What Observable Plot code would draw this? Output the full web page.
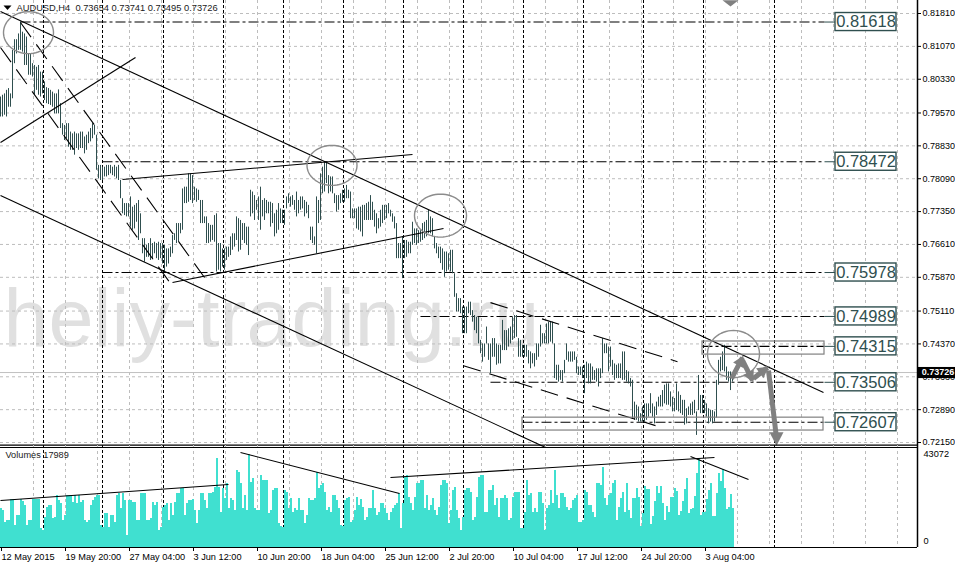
<!DOCTYPE html>
<html><head><meta charset="utf-8">
<style>html,body{margin:0;padding:0;background:#fff;overflow:hidden}svg{display:block;overflow:visible}#c{width:955px;height:563px;overflow:hidden}</style>
<script src="https://cdn.jsdelivr.net/npm/d3@7"></script>
<script src="https://cdn.jsdelivr.net/npm/@observablehq/plot@0.6"></script>
</head><body><div id="c"></div>
<script>
// price in pips (1e-4), per H4 bar
const highs=[7993,7997,8000,8008,8012,8000,8098,8122,8122,8135,
8162,8139,8135,8128,8090,8090,8068,8064,8060,8064,
8049,8049,8027,8014,8012,8008,8004,8000,8000,8009,
7978,7933,7929,7933,7933,7914,7910,7914,7910,7910,
7914,7914,7903,7907,7914,7922,7933,7929,7907,7839,
7839,7835,7835,7839,7839,7839,7835,7839,7835,7839,
7805,7764,7753,7753,7753,7768,7745,7749,7753,7760,
7730,7674,7674,7659,7663,7674,7663,7666,7663,7666,
7663,7663,7659,7651,7651,7655,7681,7685,7708,7708,
7708,7786,7790,7790,7820,7820,7816,7790,7786,7783,
7760,7760,7723,7723,7708,7704,7704,7726,7730,7663,
7663,7651,7651,7655,7655,7678,7685,7685,7723,7719,
7715,7708,7708,7700,7700,7783,7779,7771,7760,7768,
7790,7760,7764,7760,7756,7756,7753,7730,7738,7753,
7741,7738,7738,7768,7775,7768,7771,7760,7779,7760,
7768,7768,7760,7756,7749,7700,7700,7678,7768,7760,
7820,7835,7847,7847,7816,7813,7813,7775,7771,7771,
7775,7783,7786,7794,7783,7779,7741,7741,7741,7745,
7745,7749,7749,7753,7756,7771,7756,7738,7730,7719,
7738,7749,7749,7749,7753,7738,7730,7723,7708,7663,
7663,7678,7670,7670,7666,7666,7711,7696,7696,7692,
7692,7708,7711,7715,7738,7723,7719,7678,7663,7655,
7655,7651,7644,7644,7640,7648,7648,7595,7550,7539,
7539,7520,7520,7520,7531,7531,7512,7501,7497,7497,
7445,7437,7437,7475,7437,7437,7449,7449,7437,7434,
7434,7490,7467,7467,7471,7475,7497,7501,7501,7449,
7445,7434,7434,7434,7422,7419,7415,7415,7437,7437,
7479,7460,7460,7482,7486,7486,7486,7437,7389,7389,
7377,7377,7400,7437,7419,7419,7419,7419,7407,7385,
7385,7385,7389,7396,7392,7392,7385,7377,7381,7381,
7381,7449,7437,7437,7430,7430,7400,7392,7389,7392,
7392,7419,7419,7377,7374,7359,7355,7306,7299,7295,
7280,7295,7302,7302,7302,7325,7302,7295,7306,7317,
7321,7332,7344,7347,7347,7329,7317,7314,7347,7329,
7321,7310,7310,7291,7295,7302,7306,7310,7284,7366,
7321,7321,7310,7302,7291,7287,7287,7284,7355,7400,
7407,7419,7434,7385,7374,7374,7370];
const lows=[7948,7948,7952,7948,7970,7970,7989,8068,8090,8098,
8098,8094,8064,8064,8042,8042,8038,7997,8008,7997,
7993,8000,7985,7978,7976,7974,7970,7955,7955,7955,
7922,7907,7895,7899,7880,7873,7873,7862,7877,7873,
7877,7877,7865,7873,7888,7892,7899,7907,7828,7809,
7805,7805,7813,7813,7816,7820,7816,7813,7809,7805,
7764,7730,7726,7723,7723,7700,7693,7696,7711,7670,
7685,7640,7621,7632,7632,7625,7629,7640,7629,7625,
7629,7617,7599,7610,7617,7632,7640,7670,7663,7666,
7685,7693,7753,7753,7756,7760,7753,7760,7756,7760,
7708,7708,7708,7663,7663,7666,7670,7666,7599,7603,
7599,7610,7603,7625,7632,7636,7648,7655,7670,7644,
7648,7670,7663,7659,7636,7723,7730,7715,7738,7715,
7693,7723,7715,7730,7730,7700,7708,7678,7685,7693,
7708,7708,7704,7741,7753,7745,7749,7738,7723,7730,
7738,7741,7723,7730,7719,7670,7663,7659,7640,7708,
7715,7775,7779,7798,7775,7779,7775,7753,7734,7738,
7753,7756,7756,7764,7764,7719,7719,7719,7696,7693,
7689,7678,7715,7715,7715,7715,7715,7700,7685,7696,
7700,7708,7715,7719,7730,7723,7711,7696,7629,7629,
7629,7584,7629,7632,7640,7640,7659,7663,7659,7663,
7666,7670,7674,7678,7685,7685,7678,7651,7640,7629,
7618,7603,7587,7599,7603,7599,7595,7542,7509,7509,
7505,7460,7460,7460,7505,7501,7486,7467,7460,7437,
7415,7396,7407,7437,7400,7370,7407,7407,7389,7392,
7392,7422,7422,7422,7430,7437,7445,7449,7452,7407,
7407,7407,7407,7407,7392,7381,7392,7385,7400,7407,
7430,7437,7437,7437,7437,7441,7437,7359,7355,7351,
7355,7351,7370,7400,7396,7396,7396,7400,7370,7366,
7366,7359,7325,7359,7347,7347,7355,7355,7351,7340,
7359,7370,7415,7415,7374,7385,7366,7355,7359,7359,
7359,7355,7355,7351,7347,7340,7268,7265,7265,7261,
7261,7261,7261,7265,7272,7280,7272,7257,7276,7295,
7295,7295,7302,7299,7299,7295,7284,7284,7287,7284,
7280,7276,7254,7257,7276,7276,7276,7280,7231,7287,
7280,7280,7280,7272,7257,7261,7257,7261,7270,7344,
7374,7377,7374,7355,7351,7332,7351];
const volumes=[17860,17090,11700,12470,12470,22020,22020,10160,14780,14780,
22020,21410,19400,10160,12470,12470,22020,22020,22020,22020,
8620,7850,14010,18630,19400,19400,13240,14010,24020,21710,
20170,12470,14780,24020,24020,24020,20940,24020,20170,24020,
20940,21710,12470,11700,12470,19400,21710,23250,24020,24020,
10160,9390,15550,15550,9390,14780,14780,11700,24020,24790,
17860,24790,21710,5540,21710,21710,20940,20940,12470,12470,
24790,24790,24790,12470,12470,13240,20940,19400,20940,7850,
9390,18630,19400,20170,12470,20170,14780,20940,24790,24790,
27100,27100,14780,20170,21710,21710,22020,17090,10930,17090,
24790,24790,21710,17860,24790,24790,25560,27870,40960,27870,
16320,27100,22480,29410,17860,22480,21710,17090,35570,34800,
29410,17860,24020,17090,43072,30180,31720,17860,17090,17090,
33260,30950,30950,30950,15550,17090,26330,27100,27100,10930,
9700,9390,26330,25560,17860,22480,16320,17860,17090,22480,
17090,17090,10930,14780,22480,21710,21710,22480,34800,27100,
28640,29410,25560,17090,18630,16320,24020,24020,21710,17860,
10160,9700,21710,22480,22950,11700,12470,17090,23250,19400,
22020,18630,12470,14010,17860,17860,26330,17860,14780,16320,
20170,20170,17860,15550,12470,16320,17860,19400,20170,24790,
8620,20170,32490,33260,23250,20170,17090,23250,29410,29410,
30950,30950,17860,24020,17090,19400,22480,17090,14780,18630,
28640,30950,30950,29410,10930,17090,26330,27870,17090,13240,
7850,14010,26330,27100,27100,25560,12470,14010,23250,32490,
33260,33260,16320,16320,26330,26330,28640,19400,22480,14010,
22480,22480,24020,22480,12470,13240,23250,25560,25560,25560,
8620,8620,16320,30950,24020,24790,16320,17860,16320,25560,
25560,20170,7850,17860,19400,26330,20170,35570,24020,17860,
24790,24790,23250,18630,17090,17860,21710,22480,24020,11700,
11700,12470,26330,25560,19400,19400,16320,14010,29410,29410,
28640,37110,22480,19400,24020,24790,29410,30950,12470,18630,
22480,25560,16320,29410,17090,13240,22480,22480,27100,23250,
9516,15756,28236,26988,26988,10764,14508,21216,28236,25116,
28236,20436,12324,18876,16068,23088,23088,27456,25896,14976,
16848,21216,26676,31668,15756,17628,18096,23556,34164,41028,
14976,16068,16068,21996,26364,29796,14508,14196,25116,34164,
30576,36036,27456,17628,18564,24336,17989];

const yTicks=[0.8181,0.8107,0.8033,0.7957,0.7883,0.7809,0.7735,0.7661,0.7587,0.7511,0.7437,0.7363,0.7289,0.7215];
const xTicks=[0,32,64,96,128,160,192,224,256,288,320,352];
const xLabels=["12 May 2015","19 May 20:00","27 May 04:00","3 Jun 12:00","10 Jun 20:00","18 Jun 04:00","25 Jun 12:00","2 Jul 20:00","10 Jul 04:00","17 Jul 12:00","24 Jul 20:00","3 Aug 04:00"];
const gridV=[16.5,32.5,48.5,64.5,80.5,96.5,112.5,128.5,144.5,160.5,176.5,192.5,208.5,224.5,240.5,256.5,272.5,288.5,304.5,320.5,336.5,352.5,368.5,384.5,400.5,416.5,432.5,448.5];
const separators=[21.5,51,81.5,111.5,141.5,171.5,201.5,231.5,261.5,291.5,321.5,351.5,387];
const levels=[0.81618,0.78472,0.75978,0.74989,0.74315,0.73506,0.72607];
const levelStart=[10,51,51,210,351,245,261];
const solidLines=[[0,8185.5,411.5,7327.6],[0,7771,272.5,7204],[0,7890.6,67.5,8082],[61,7807.2,206,7863.5],[86,7575.3,221.5,7696.9]];
const dashedLines=[[10,8160.8,102,7586.6],[0,8104.5,85,7573],[245,7530,338.5,7397],[231.5,7388,327.5,7253]];
const ellipses=[[14,8138,12.5,47.3],[165.75,7839,12.5,45],[220,7726,13,48.4],[366.5,7414.3,13,53]];
const arrows=[[365.5,7359,371,7406],[371,7400,376,7355],[376.5,7359,383.5,7384],[384,7377,388,7225]];
const heads=[[[371.5,7411],[371.6,7382],[366.3,7395]],[[376.5,7350],[376.6,7379],[371.3,7367]],[[384,7386],[381.5,7360],[377.8,7382]],[[388,7208],[384.5,7238],[391.5,7238]],[[361,8211],[369,8211],[365,8197]],[[1.5,8199],[5.5,8199],[3.5,8189]]];
const zones=[[351,412,0.74425,0.7413],[261,411.5,0.7271,0.7242]];
const volSolid=[[0,21714,114,29106],[120,43890,199.5,24948],[195,32340,357,41580],[345,42042,374,31416]];
const header="AUDUSD,H4\u00a0\u00a00.73654 0.73741 0.73495 0.73726";
const volHeader="Volumes 17989";
const lastPrice=0.73726;

const ink="#2f4f4f", sans="'Liberation Sans',Arial,sans-serif";
const p=v=>v/1e4;
const xDomain=[0,458.5];
const bars=highs.map((h,i)=>({i,h:p(h),l:p(lows[i])}));
const seg=(arr,f=p)=>arr.map(([a,b,c,d],k)=>({x1:a,y1:f(b),x2:c,y2:f(d),k}));
const ellipsePts=ellipses.flatMap(([cx,cy,rx,ry],k)=>d3.range(0,65).map(t=>({k,x:cx+rx*Math.cos(t/32*Math.PI),y:p(cy+ry*Math.sin(t/32*Math.PI))})));
const headPts=heads.flatMap((h,k)=>[...h,h[0]].map(([x,y])=>({k,x,y:p(y),f:k===5?"#000000":"#808080"})));
const lv=levels.map((y,i)=>({y,s:levelStart[i],t:y.toFixed(5)}));
const pad=0.00203;

const panelTop=Plot.plot({
 width:955,height:445,marginTop:0,marginBottom:0,marginLeft:0,marginRight:38,
 style:{fontFamily:sans,fontSize:"9px",background:"#fff",color:"#000",overflow:"visible"},
 x:{domain:xDomain,axis:null},
 y:{domain:[0.72083,0.82103],axis:null},
 marks:[
  Plot.text([0],{x:()=>1.5,y:()=>0.7490,text:()=>"heliy-trading.ru",textAnchor:"start",fontSize:81,fill:"#e0e0e0",fontFamily:sans}),
  Plot.gridY(yTicks,{stroke:"#bdbdbd",strokeOpacity:1,strokeDasharray:"3,3"}),
  Plot.gridX(gridV,{stroke:"#bdbdbd",strokeOpacity:1,strokeDasharray:"3,3"}),
  Plot.ruleX(separators,{stroke:"#000",strokeDasharray:"3,2"}),
  Plot.ruleY([lastPrice],{stroke:"#c0c0c0"}),
  Plot.link(lv,{x1:"s",x2:()=>412,y1:"y",y2:"y",stroke:"#000",strokeDasharray:"10,3,3,3",strokeWidth:1.1}),
  Plot.link(lv,{x1:()=>412,x2:()=>417.5,y1:"y",y2:"y",stroke:ink}),
  Plot.ruleX(bars,{x:"i",y1:"l",y2:"h",stroke:ink,strokeWidth:1}),
  Plot.link(seg(solidLines),{x1:"x1",y1:"y1",x2:"x2",y2:"y2",stroke:"#000",strokeWidth:1.1}),
  Plot.link(seg(dashedLines),{x1:"x1",y1:"y1",x2:"x2",y2:"y2",stroke:"#000",strokeWidth:1.1,strokeDasharray:"18,9"}),
  Plot.rect(zones,{x1:d=>d[0],x2:d=>d[1],y1:d=>d[2],y2:d=>d[3],fill:"none",stroke:"#808080",strokeWidth:1.2}),
  Plot.line(ellipsePts,{x:"x",y:"y",z:"k",stroke:"#8c8c8c",strokeWidth:1.4}),
  Plot.link(seg(arrows),{x1:"x1",y1:"y1",x2:"x2",y2:"y2",stroke:"#808080",strokeWidth:5}),
  Plot.line(headPts,{x:"x",y:"y",z:"k",fill:"f",stroke:"none"}),
  Plot.rect(lv,{x1:()=>417.5,x2:()=>448,y1:d=>d.y-pad,y2:d=>d.y+pad,fill:"#fff",stroke:ink,strokeWidth:1.4}),
  Plot.text(lv,{x:()=>432.75,y:"y",text:"t",fontSize:16.5,fill:ink,fontFamily:sans}),
  Plot.text([header],{x:()=>8,y:()=>0.81945,text:d=>d,textAnchor:"start",fontSize:9.3,fill:"#1a1a1a"}),
  Plot.axisY({anchor:"right",ticks:yTicks,tickFormat:d3.format(".5f"),tickSize:3,tickPadding:2,label:null,fontSize:9}),
  Plot.rect([lastPrice],{x1:()=>459,x2:()=>480,y1:()=>0.7359,y2:()=>0.7384,fill:"#000"}),
  Plot.text([lastPrice],{x:()=>460.6,y:()=>lastPrice,text:d=>d.toFixed(5),textAnchor:"start",fontSize:9,fontWeight:"bold",fill:"#fff"}),
  Plot.ruleX([458.5],{stroke:"#000",strokeWidth:1.5}),
  Plot.ruleY([0.7209],{stroke:"#000",strokeWidth:1.2})
 ]
});

const panelBottom=Plot.plot({
 width:955,height:118,marginTop:0,marginBottom:16,marginLeft:0,marginRight:38,
 style:{fontFamily:sans,fontSize:"9.2px",background:"transparent",color:"#000",overflow:"visible"},
 x:{domain:xDomain,axis:null},
 y:{domain:[0,47124],axis:null},
 marks:[
  Plot.gridX(gridV,{stroke:"#bdbdbd",strokeOpacity:1,strokeDasharray:"3,3"}),
  Plot.ruleX(separators,{stroke:"#000",strokeDasharray:"3,2"}),
  Plot.rectY(volumes,{x1:(d,i)=>i,x2:(d,i)=>i+1,y1:()=>0,y2:d=>d,fill:"#40e0d0",inset:0,shapeRendering:"crispEdges"}),
  Plot.link(seg(volSolid,v=>v),{x1:"x1",y1:"y1",x2:"x2",y2:"y2",stroke:"#000",strokeWidth:1.1}),
  Plot.text([volHeader],{x:()=>2.5,y:()=>42504,text:d=>d,textAnchor:"start",fontSize:9.2,fill:"#1a1a1a"}),
  Plot.axisY({anchor:"right",ticks:[43072],tickSize:0,tickPadding:6,label:null,tickFormat:d=>String(d)}),
  Plot.axisY({anchor:"right",ticks:[0],tickSize:0,tickPadding:6,label:null,tickFormat:d=>String(d),dy:-6}),
  Plot.axisX({anchor:"bottom",ticks:xTicks,tickFormat:d=>xLabels[xTicks.indexOf(d)],textAnchor:"start",tickSize:4,tickPadding:2,label:null,dx:1}),
  Plot.ruleX([458.5],{stroke:"#000",strokeWidth:1.5}),
  Plot.ruleY([0],{stroke:"#000",strokeWidth:1.2}),
  Plot.ruleY([46200],{stroke:"#000",strokeWidth:1.2})
 ]
});
document.getElementById("c").append(panelTop,panelBottom);
</script></body></html>
